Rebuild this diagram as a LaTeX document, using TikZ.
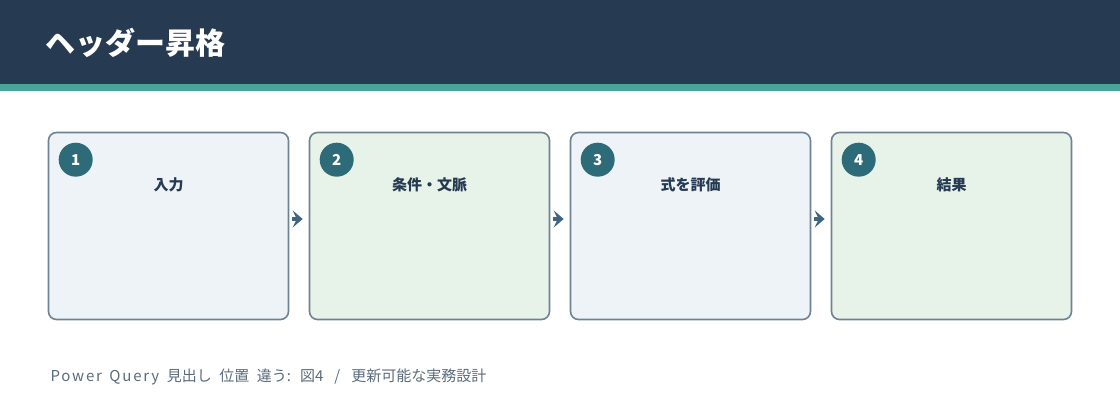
\documentclass[tikz,border=0pt]{standalone}
\usepackage{fontspec}
\setmainfont{Noto Sans CJK JP}
\newfontfamily\latinwide[LetterSpace=12]{Noto Sans CJK JP}
\newcommand\footspacing{\spaceskip=7.5pt\relax}
\newcommand\slashspacing{\spaceskip=11pt\relax}
\usetikzlibrary{arrows.meta,positioning,calc}

\definecolor{navy}{HTML}{263A52}
\definecolor{stripe}{HTML}{48A39A}
\definecolor{bluebox}{HTML}{EEF3F8}
\definecolor{greenbox}{HTML}{E7F2E8}
\definecolor{boxline}{HTML}{6E8293}
\definecolor{badgec}{HTML}{2E6B78}
\definecolor{arrowc}{HTML}{3E6682}
\definecolor{footc}{HTML}{5B6B7B}

\begin{document}
\begin{tikzpicture}[x=1pt, y=1pt, > = {Stealth[length=10pt, width=17pt, inset=4pt]}]
                       \tikzstyle{stepbox}=[rectangle, rounded corners=8pt, draw=boxline, line width=1.6pt, minimum width=240pt, minimum height=187pt, inner sep=0pt]
                       \tikzstyle{badge}=[circle, fill=badgec, text=white, font=\bfseries\fontsize{15}{15}\selectfont, minimum size=34pt, inner sep=0pt]
                       \tikzstyle{steptext}=[text=navy, font=\bfseries\fontsize{15}{15}\selectfont]
                       \tikzstyle{flow}=[->, draw=arrowc, line width=4pt, shorten <=3pt, shorten >=6pt]

                        \useasboundingbox (0,0) rectangle (1120,420);

                        % Cabeçalho
                        \fill[navy] (0,336) rectangle (1120,420);
                        \fill[stripe] (0,329) rectangle (1120,336);
                        \node[anchor=west, text=white, font=\bfseries\fontsize{30}{30}\selectfont] (title) at (42,377) {ヘッダー昇格};

                        % Caixas
                        \node[stepbox, fill=bluebox] (b1) at (168.5,194) {};
                        \node[stepbox, fill=greenbox] (b2) at (429.5,194) {};
                        \node[stepbox, fill=bluebox] (b3) at (690.5,194) {};
                        \node[stepbox, fill=greenbox] (b4) at (951.5,194) {};

                        % Números
                        \node[badge] (n1) at ($(b1.north west)+(28,-28)$) {1};
                        \node[badge] (n2) at ($(b2.north west)+(28,-28)$) {2};
                        \node[badge] (n3) at ($(b3.north west)+(28,-28)$) {3};
                        \node[badge] (n4) at ($(b4.north west)+(28,-28)$) {4};

                        % Textos
                        \node[steptext] (t1) at ($(b1.north)+(0,-53)$) {入力};
                        \node[steptext] (t2) at ($(b2.north)+(0,-53)$) {条件・文脈};
                        \node[steptext] (t3) at ($(b3.north)+(0,-53)$) {式を評価};
                        \node[steptext] (t4) at ($(b4.north)+(0,-53)$) {結果};

                        % Setas
                        \draw[flow] ([yshift=7pt]b1.east) -- ([yshift=7pt]b2.west);
                        \draw[flow] ([yshift=7pt]b2.east) -- ([yshift=7pt]b3.west);
                        \draw[flow] ([yshift=7pt]b3.east) -- ([yshift=7pt]b4.west);

                        % Rodapé
                        \node[anchor=west, text=footc, font=\fontsize{15}{15}\selectfont\footspacing] (foot) at (47,43) {{\latinwide Power Query} 見出し 位置 違う{\latinwide: }図{\latinwide\slashspacing 4 / }更新可能な実務設計};
                  \end{tikzpicture}
\end{document}
